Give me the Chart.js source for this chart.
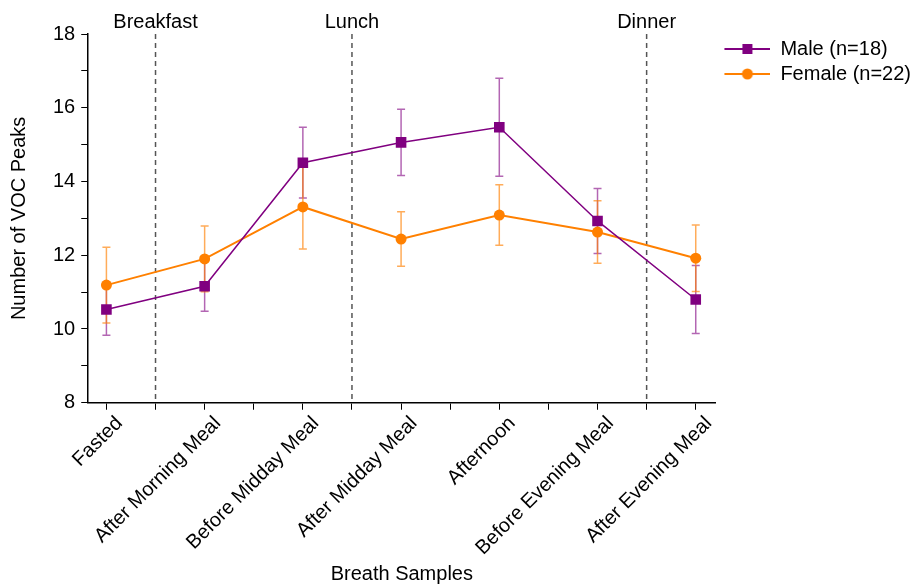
<!DOCTYPE html>
<html>

<head>
    <title>VOC Peaks</title>
    <script src="https://cdn.jsdelivr.net/npm/chart.js@4/dist/chart.umd.min.js"></script>
    <style>
        body { margin: 0; background: #fff; }
        #wrap { width: 921px; height: 588px; }
    </style>
</head>

<body>
    <div id="wrap"><canvas id="myChart"></canvas></div>
</body>
<script>
    // breath sample time points
    const categories = ['Fasted', 'After Morning Meal', 'Before Midday Meal', 'After Midday Meal',
        'Afternoon', 'Before Evening Meal', 'After Evening Meal'];

    // mean number of VOC peaks and error (+/-)
    const maleValues = [10.53, 11.16, 14.51, 15.06, 15.47, 12.93, 10.80];
    const maleErrors = [0.70, 0.68, 0.96, 0.90, 1.33, 0.88, 0.92];
    const femaleValues = [11.19, 11.90, 13.31, 12.44, 13.09, 12.63, 11.92];
    const femaleErrors = [1.03, 0.89, 1.14, 0.74, 0.82, 0.85, 0.90];

    // meals, placed between sample points
    const mealNames = ['Breakfast', 'Lunch', 'Dinner'];
    const mealPositions = [0.5, 2.5, 5.5];

    const yTicks = [8, 9, 10, 11, 12, 13, 14, 15, 16, 17, 18];
    const xTicks = [0, 0.5, 1, 1.5, 2, 2.5, 3, 3.5, 4, 4.5, 5, 5.5, 6];

    const purple = '#800080';
    const orange = '#ff8000';
    const fontName = '"Liberation Sans", Arial, sans-serif';

    Chart.defaults.font.family = fontName;
    Chart.defaults.color = '#000';

    // small image of line + marker for the legend (little empty gap on the left)
    function legendImage(color, shape) {
        const c = document.createElement('canvas');
        c.width = 50;
        c.height = 14;
        const g = c.getContext('2d');
        g.strokeStyle = color;
        g.lineWidth = 2;
        g.beginPath();
        g.moveTo(4, 7);
        g.lineTo(50, 7);
        g.stroke();
        g.fillStyle = color;
        if (shape === 'rect') {
            g.fillRect(27 - 5, 7 - 5, 10, 10);
        } else {
            g.beginPath();
            g.arc(27, 7, 5.5, 0, Math.PI * 2);
            g.fill();
        }
        return c;
    }

    // error bars drawn with the chart scales
    const errorBars = {
        id: 'errorBars',
        beforeDatasetsDraw(chart) {
            const ctx = chart.ctx;
            const xs = chart.scales.x;
            const ys = chart.scales.y;
            const sets = [
                { vals: maleValues, errs: maleErrors, color: 'rgba(128,0,128,0.6)' },
                { vals: femaleValues, errs: femaleErrors, color: 'rgba(255,128,0,0.65)' }
            ];
            ctx.save();
            sets.forEach((s) => {
                ctx.strokeStyle = s.color;
                ctx.lineWidth = 1.5;
                s.vals.forEach((v, i) => {
                    const x = xs.getPixelForValue(i);
                    const top = ys.getPixelForValue(v + s.errs[i]);
                    const bot = ys.getPixelForValue(v - s.errs[i]);
                    ctx.beginPath();
                    ctx.moveTo(x, top);
                    ctx.lineTo(x, bot);
                    ctx.moveTo(x - 4, top);
                    ctx.lineTo(x + 4, top);
                    ctx.moveTo(x - 4, bot);
                    ctx.lineTo(x + 4, bot);
                    ctx.stroke();
                });
            });
            ctx.restore();
        }
    };

    // dashed meal lines and their names above the plot
    const mealLines = {
        id: 'mealLines',
        beforeDatasetsDraw(chart) {
            const ctx = chart.ctx;
            const area = chart.chartArea;
            const xs = chart.scales.x;
            ctx.save();
            ctx.strokeStyle = '#555';
            ctx.lineWidth = 1.5;
            ctx.setLineDash([5, 4]);
            ctx.fillStyle = '#000';
            ctx.font = '20px ' + fontName;
            ctx.textAlign = 'center';
            ctx.textBaseline = 'middle';
            mealPositions.forEach((p, i) => {
                const x = xs.getPixelForValue(p);
                ctx.beginPath();
                ctx.moveTo(x, area.top);
                ctx.lineTo(x, area.bottom);
                ctx.stroke();
                ctx.fillText(mealNames[i], x, area.top - 12);
            });
            ctx.restore();
        }
    };

    const data = {
        datasets: [{
            label: 'Male (n=18)',
            data: maleValues.map((v, i) => ({ x: i, y: v })),
            borderColor: purple,
            backgroundColor: purple,
            borderWidth: 1.5,
            pointStyle: 'rect',
            pointRadius: 7.5,
            pointHoverRadius: 7.5,
            pointBorderWidth: 0
        }, {
            label: 'Female (n=22)',
            data: femaleValues.map((v, i) => ({ x: i, y: v })),
            borderColor: orange,
            backgroundColor: orange,
            borderWidth: 2,
            pointStyle: 'circle',
            pointRadius: 5.5,
            pointHoverRadius: 5.5,
            pointBorderWidth: 0
        }]
    };

    const legendImages = [legendImage(purple, 'rect'), legendImage(orange, 'circle')];

    const config = {
        type: 'line',
        data: data,
        plugins: [errorBars, mealLines],
        options: {
            responsive: true,
            maintainAspectRatio: false,
            animation: false,
            layout: { padding: { top: 34, left: 7, right: 0, bottom: 2 } },
            plugins: {
                tooltip: { enabled: false },
                legend: {
                    position: 'right',
                    align: 'start',
                    labels: {
                        usePointStyle: true,
                        pointStyleWidth: 50,
                        padding: 5,
                        color: '#000',
                        font: { size: 20 },
                        generateLabels(chart) {
                            const items = Chart.defaults.plugins.legend.labels.generateLabels(chart);
                            items.forEach((it, i) => { it.pointStyle = legendImages[i]; });
                            return items;
                        }
                    }
                }
            },
            scales: {
                x: {
                    type: 'linear',
                    min: -0.185,
                    max: 6.2,
                    afterBuildTicks: (s) => { s.ticks = xTicks.map((v) => ({ value: v })); },
                    grid: { drawOnChartArea: false, drawTicks: true, tickLength: 7, color: '#000' },
                    border: { color: '#000', width: 1.5 },
                    ticks: {
                        autoSkip: false,
                        minRotation: 45,
                        maxRotation: 45,
                        padding: 2,
                        labelOffset: 13,
                        font: { size: 20 },
                        color: '#000',
                        callback: (v) => Number.isInteger(v) ? categories[v] : ''
                    },
                    title: { display: true, text: 'Breath Samples', font: { size: 20 }, color: '#000', padding: { top: 0, bottom: 0 } }
                },
                y: {
                    min: 8,
                    max: 18,
                    afterBuildTicks: (s) => { s.ticks = yTicks.map((v) => ({ value: v })); },
                    grid: { drawOnChartArea: false, drawTicks: true, tickLength: 7, color: '#000' },
                    border: { color: '#000', width: 1.5 },
                    ticks: {
                        padding: 6,
                        font: { size: 20 },
                        color: '#000',
                        callback: (v) => v % 2 === 0 ? v : ''
                    },
                    title: { display: true, text: 'Number of VOC Peaks', font: { size: 20 }, color: '#000', padding: { top: 0, bottom: 16 } }
                }
            }
        }
    };

    const myChart = new Chart(document.getElementById('myChart'), config);
</script>

</html>
